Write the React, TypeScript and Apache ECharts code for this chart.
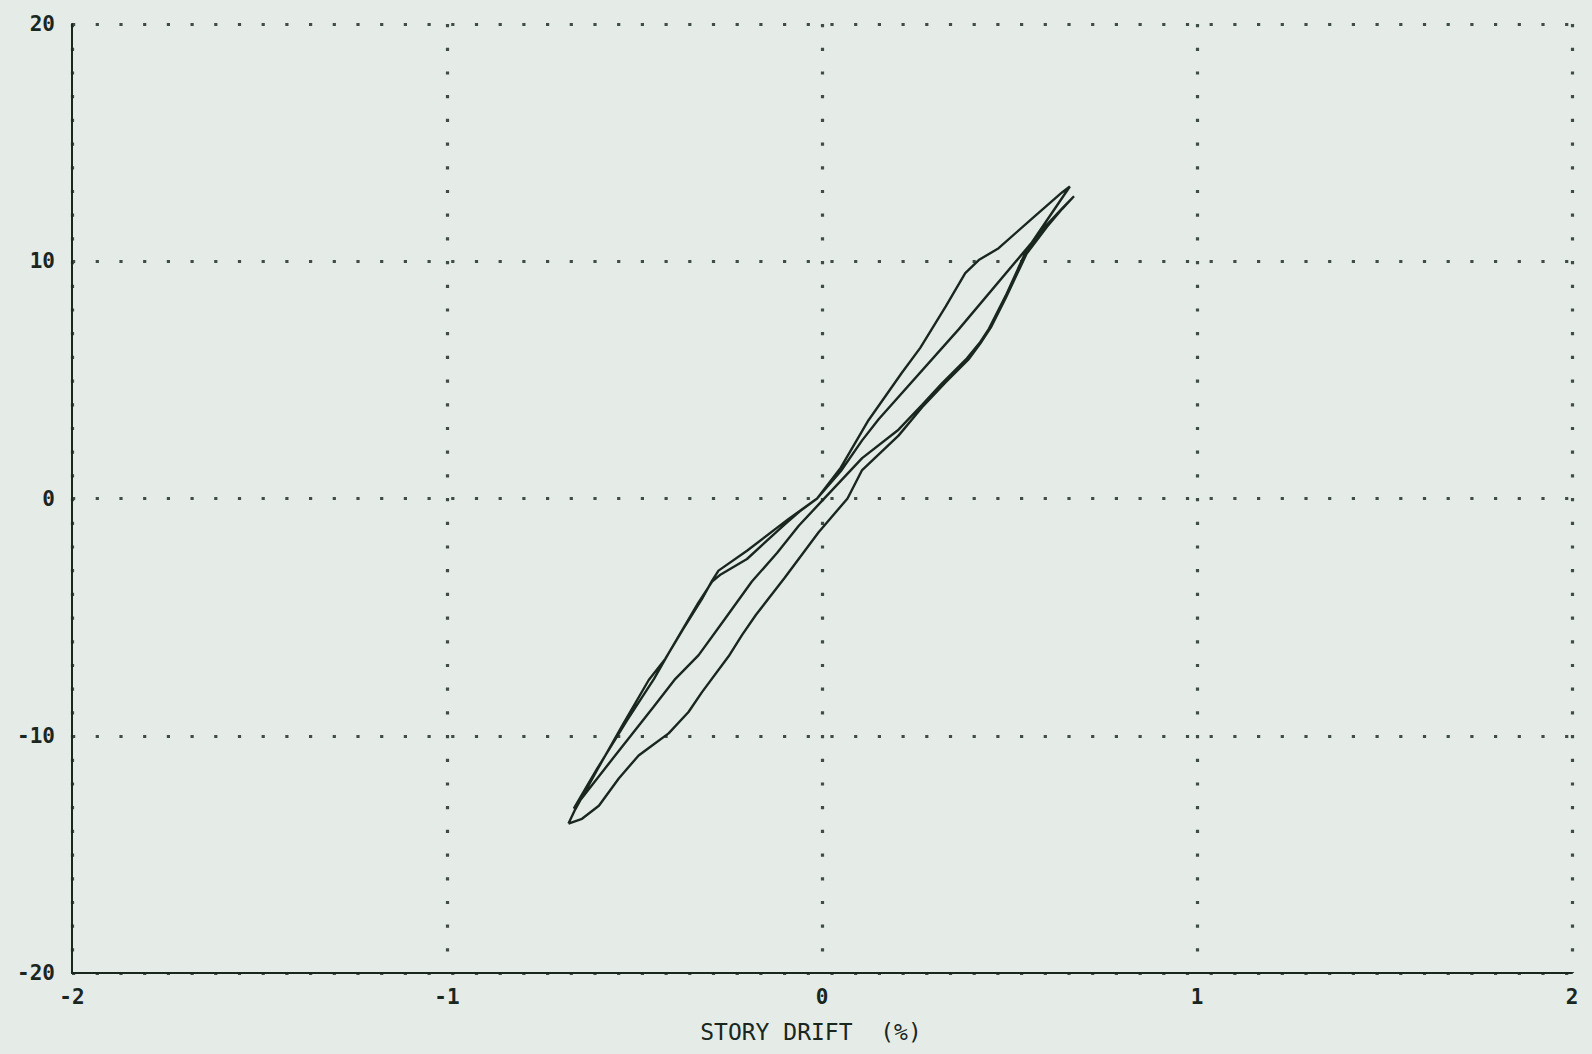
import React, { useEffect, useRef } from "react";
import * as echarts from "echarts";

type Pt = [number, number];

// Story drift (%) vs. load, traced as four branches of the hysteresis loop.
// Branch A: from the lower negative peak up to the upper positive peak.
const branchA: Pt[] = [
  [-0.676, -13.7], [-0.658, -13.1], [-0.6, -11.45], [-0.53, -9.5], [-0.462, -7.65],
  [-0.418, -6.76], [-0.37, -5.5], [-0.32, -4.23], [-0.293, -3.46], [-0.276, -3.04],
  [-0.2, -2.2], [-0.089, -0.86], [-0.013, 0.0], [0.05, 1.3], [0.124, 3.3],
  [0.213, 5.3], [0.262, 6.35], [0.33, 8.1], [0.382, 9.5], [0.418, 10.05],
  [0.471, 10.55], [0.56, 11.8], [0.64, 12.9], [0.661, 13.15],
];

// Branch B: from the upper positive peak down to the second negative peak.
const branchB: Pt[] = [
  [0.661, 13.15], [0.56, 10.8], [0.365, 7.14], [0.151, 3.34], [0.107, 2.45],
  [0.05, 1.15], [-0.013, 0.0], [-0.06, -0.55], [-0.1, -1.1], [-0.2, -2.55],
  [-0.27, -3.2], [-0.293, -3.5], [-0.33, -4.4], [-0.41, -6.55], [-0.448, -7.6],
  [-0.52, -9.35], [-0.6, -11.4], [-0.662, -13.07],
];

// Branch C: from the second negative peak up to the lower positive peak.
const branchC: Pt[] = [
  [-0.662, -13.07], [-0.55, -10.8], [-0.45, -8.8], [-0.391, -7.6], [-0.329, -6.6],
  [-0.26, -5.1], [-0.187, -3.5], [-0.12, -2.3], [-0.062, -1.15], [0.0, -0.1],
  [0.107, 1.7], [0.204, 2.9], [0.267, 3.95], [0.32, 4.85], [0.386, 5.9],
  [0.42, 6.55], [0.445, 7.15], [0.49, 8.55], [0.542, 10.35], [0.6, 11.55],
  [0.645, 12.3], [0.672, 12.74],
];

// Branch D: from the lower positive peak back down to the first negative peak.
const branchD: Pt[] = [
  [0.672, 12.74], [0.64, 12.2], [0.6, 11.45], [0.545, 10.3], [0.49, 8.45],
  [0.45, 7.2], [0.425, 6.6], [0.39, 5.85], [0.33, 4.9], [0.267, 3.85],
  [0.204, 2.65], [0.107, 1.2], [0.068, 0.0], [-0.009, -1.42], [-0.1, -3.35],
  [-0.176, -4.9], [-0.213, -5.75], [-0.249, -6.65], [-0.32, -8.16], [-0.356, -9.0],
  [-0.409, -9.9], [-0.453, -10.41], [-0.489, -10.83], [-0.542, -11.8], [-0.595, -12.95],
  [-0.64, -13.5], [-0.676, -13.7],
];

const xTicks = [-2, -1, 0, 1, 2];
const yTicks = [-20, -10, 0, 10, 20];
const xAxisTitle = "STORY DRIFT  (%)";

const W = 1592;
const H = 1054;
const INK = "#1a271f";
const PAPER = "#e5ece7";
const MONO = "'DejaVu Sans Mono', 'Liberation Mono', monospace";

export default function App() {
  const ref = useRef<HTMLDivElement>(null);

  useEffect(() => {
    if (!ref.current) return;
    const chart = echarts.init(ref.current, null, { renderer: "svg", width: W, height: H });

    const loop: Pt[] = [
      ...branchA,
      ...branchB.slice(1),
      ...branchC.slice(1),
      ...branchD.slice(1),
    ];

    const dotted = { color: "#3f4e45", width: 3.2, type: [3.2, 20.5] as number[] };

    chart.setOption({
      animation: false,
      backgroundColor: PAPER,
      grid: { left: 72, top: 24, width: 1500, height: 949, containLabel: false },
      xAxis: {
        type: "value",
        min: xTicks[0],
        max: xTicks[xTicks.length - 1],
        interval: xTicks[1] - xTicks[0],
        axisLine: { onZero: false, lineStyle: { color: INK, width: 2 } },
        axisTick: { show: false },
        axisLabel: {
          color: INK,
          fontFamily: MONO,
          fontWeight: "bold",
          fontSize: 21,
          margin: 13,
        },
        splitLine: { show: true, lineStyle: dotted },
        name: xAxisTitle,
        nameLocation: "middle",
        nameGap: 47,
        nameTextStyle: {
          color: INK,
          fontFamily: MONO,
          fontSize: 23,
          padding: [0, 22, 0, 0],
        },
      },
      yAxis: {
        type: "value",
        min: yTicks[0],
        max: yTicks[yTicks.length - 1],
        interval: yTicks[1] - yTicks[0],
        axisLine: { onZero: false, lineStyle: { color: INK, width: 2 } },
        axisTick: { show: false },
        axisLabel: {
          color: INK,
          fontFamily: MONO,
          fontWeight: "bold",
          fontSize: 21,
          margin: 17,
        },
        splitLine: { show: true, lineStyle: dotted },
      },
      series: [
        {
          type: "line",
          data: loop,
          showSymbol: false,
          smooth: false,
          lineStyle: { color: INK, width: 2.4 },
          z: 5,
        },
      ],
    });

    return () => chart.dispose();
  }, []);

  return (
    <div
      ref={ref}
      style={{ position: "absolute", left: 0, top: 0, width: W, height: H, background: PAPER }}
    />
  );
}
